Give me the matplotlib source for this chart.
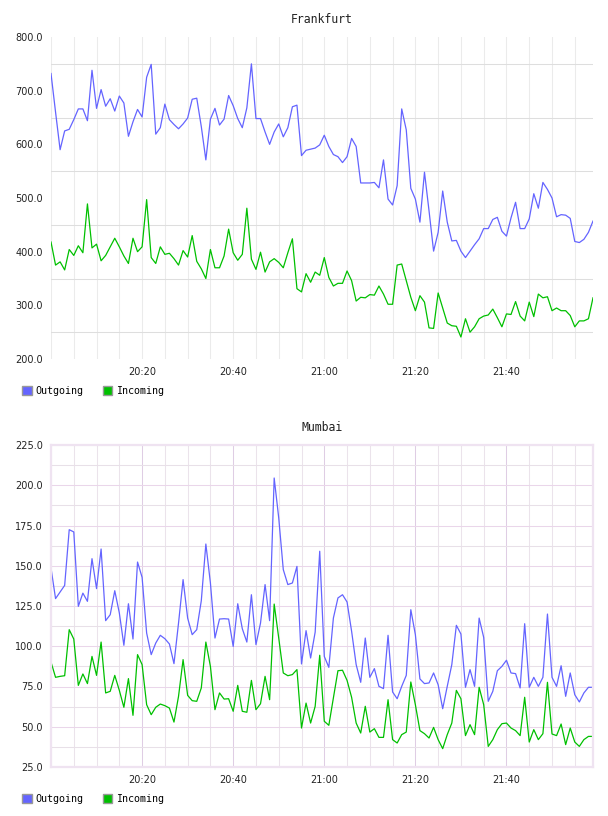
import matplotlib
matplotlib.use('Agg')
import matplotlib.pyplot as plt
import matplotlib.dates as mdates
from matplotlib.patches import Patch
import numpy as np
import pandas as pd

# One sample per minute, 20:00 - 21:59
times = pd.date_range('2017-01-01 20:00', periods=120, freq='min')
tick_times = pd.to_datetime(['2017-01-01 20:20', '2017-01-01 20:40', '2017-01-01 21:00',
                             '2017-01-01 21:20', '2017-01-01 21:40'])

fra_out = [732, 660, 590, 625, 628, 646, 666, 666, 644, 738,
           667, 702, 671, 685, 662, 690, 677, 615, 642, 665,
           651, 725, 749, 619, 631, 675, 646, 637, 629, 638,
           649, 684, 686, 633, 571, 647, 667, 636, 647, 691,
           672, 648, 631, 668, 750, 648, 648, 623, 600, 623,
           638, 614, 631, 670, 673, 579, 589, 591, 593, 599,
           617, 596, 581, 577, 566, 577, 611, 596, 528, 528,
           528, 529, 519, 571, 498, 487, 523, 666, 627, 518,
           498, 455, 548, 476, 401, 436, 513, 455, 420, 421,
           401, 389, 401, 413, 424, 443, 443, 460, 464, 438,
           429, 463, 492, 443, 443, 461, 508, 481, 529, 516,
           500, 465, 469, 468, 462, 419, 417, 423, 436, 457]
fra_in = [418, 375, 381, 366, 404, 393, 411, 398, 489, 407,
          414, 383, 393, 409, 425, 409, 392, 378, 425, 400,
          409, 497, 389, 378, 409, 395, 397, 387, 375, 402,
          390, 430, 382, 368, 350, 404, 370, 370, 392, 442,
          398, 384, 395, 481, 386, 367, 399, 362, 381, 387,
          380, 370, 398, 424, 331, 325, 359, 343, 362, 356,
          389, 352, 336, 341, 341, 364, 346, 308, 315, 314,
          320, 319, 336, 321, 302, 302, 375, 377, 346, 315,
          290, 318, 306, 258, 257, 323, 295, 267, 262, 261,
          241, 275, 250, 260, 275, 280, 282, 293, 277, 260,
          284, 283, 307, 280, 271, 306, 279, 321, 314, 316,
          290, 295, 290, 290, 281, 260, 271, 271, 275, 314]

mum_out = [148.6, 129.6, 133.7, 137.8, 172.4, 171.0, 124.8, 133.0, 127.9, 154.4,
           135.8, 160.4, 115.9, 119.6, 134.5, 120.7, 100.6, 126.4, 104.5, 152.3,
           142.8, 108.2, 94.8, 102.0, 106.8, 104.7, 101.4, 89.2, 114.4, 141.4,
           117.5, 107.2, 110.3, 128.3, 163.5, 139.3, 105.1, 116.9, 117.1, 116.9,
           99.9, 126.4, 110.9, 102.6, 132.0, 101.0, 114.4, 138.3, 115.9, 204.5,
           179.7, 147.6, 138.3, 139.3, 149.6, 89.0, 109.7, 92.7, 108.8, 159.0,
           93.7, 86.9, 117.5, 130.0, 132.0, 127.5, 109.3, 88.6, 77.6, 105.1,
           80.7, 86.1, 75.1, 73.7, 106.8, 71.6, 67.4, 75.1, 81.9, 122.7,
           107.2, 79.7, 76.8, 77.2, 83.4, 76.1, 61.2, 75.1, 88.6, 113.0,
           107.6, 74.5, 85.5, 75.1, 117.5, 105.5, 65.8, 72.0, 84.8, 87.5,
           91.3, 83.4, 83.0, 74.1, 114.0, 74.5, 80.7, 75.1, 80.7, 120.0,
           80.7, 75.1, 87.9, 68.9, 83.4, 69.9, 65.4, 71.0, 74.5, 74.5]
mum_in = [90.2, 80.7, 81.3, 81.7, 110.3, 104.5, 75.7, 82.8, 76.8, 93.7,
          81.9, 102.6, 71.0, 72.0, 81.9, 72.6, 62.1, 79.9, 57.1, 94.8,
          88.6, 63.7, 57.5, 62.1, 64.1, 63.1, 61.6, 52.9, 68.9, 91.7,
          69.5, 66.2, 65.8, 74.1, 102.6, 87.5, 60.6, 71.0, 67.2, 67.4,
          59.6, 75.7, 59.6, 59.0, 78.8, 60.6, 64.3, 81.3, 66.8, 126.2,
          105.1, 83.4, 81.7, 82.4, 85.5, 49.2, 64.7, 52.3, 62.7, 94.4,
          53.4, 50.9, 67.9, 84.8, 85.1, 78.8, 68.3, 52.3, 46.1, 62.7,
          46.7, 48.8, 43.4, 43.4, 66.8, 42.0, 39.9, 45.1, 46.7, 77.8,
          63.7, 47.6, 45.7, 43.0, 49.6, 42.0, 36.4, 45.1, 52.3, 72.6,
          67.4, 44.5, 51.3, 45.1, 74.5, 63.7, 37.8, 42.0, 48.2, 51.9,
          52.3, 49.2, 47.6, 44.5, 68.3, 40.5, 48.2, 42.0, 45.7, 77.6,
          45.5, 44.5, 51.7, 38.9, 49.2, 40.5, 37.8, 42.0, 44.0, 44.0]

OUT_COLOR = '#6464ff'
IN_COLOR = '#00c000'
MONO = 'DejaVu Sans Mono'
LW = 0.9
GW = 0.75

fig = plt.figure(figsize=(6.08, 8.16), dpi=100)
ax1 = fig.add_axes([51 / 608, 1 - 359 / 816, 542 / 608, 322 / 816])
ax2 = fig.add_axes([51 / 608, 1 - 767 / 816, 542 / 608, 322 / 816])


def setup_axis(ax, title, ylo, yhi, ystep):
    ax.set_xlim(times[0], times[-1])
    ax.set_ylim(ylo, yhi)
    ax.set_xticks(tick_times)
    ax.xaxis.set_major_formatter(mdates.DateFormatter('%H:%M'))
    ax.xaxis.set_minor_locator(mdates.MinuteLocator(byminute=range(0, 60, 5)))
    ax.set_yticks(np.arange(ylo, yhi + 1, ystep))
    ax.yaxis.set_major_formatter(plt.FormatStrFormatter('%.1f'))
    ax.tick_params(which='both', length=0, labelsize=7, colors='#222222', pad=6)
    ax.set_title(title, fontsize=8.3, family=MONO, color='#222222', pad=10)
    ax.set_axisbelow(True)


# Frankfurt
ax1.plot(times, fra_out, color=OUT_COLOR, lw=LW)
ax1.plot(times, fra_in, color=IN_COLOR, lw=LW)
setup_axis(ax1, 'Frankfurt', 200, 800, 100)
ax1.set_yticks(np.arange(250, 800, 100), minor=True)
for s in ax1.spines.values():
    s.set_visible(False)
ax1.grid(True, axis='x', which='both', color='#ebebeb', lw=GW)
ax1.grid(True, axis='y', which='minor', color='#dedede', lw=GW)

# Mumbai
ax2.plot(times, mum_out, color=OUT_COLOR, lw=LW)
ax2.plot(times, mum_in, color=IN_COLOR, lw=LW)
setup_axis(ax2, 'Mumbai', 25, 225, 25)
ax2.set_yticks(np.arange(37.5, 225, 25), minor=True)
for s in ax2.spines.values():
    s.set_color('#efe3f1')
    s.set_linewidth(1.6)
ax2.grid(True, axis='x', which='major', color='#dfcde4', lw=GW)
ax2.grid(True, axis='x', which='minor', color='#ebe3eb', lw=GW)
ax2.grid(True, axis='y', which='major', color='#ead6ea', lw=GW)
ax2.grid(True, axis='y', which='minor', color='#e8e0e8', lw=GW)

handles = [Patch(facecolor=OUT_COLOR, edgecolor='#999999', label='Outgoing'),
           Patch(facecolor=IN_COLOR, edgecolor='#999999', label='Incoming')]
for ax, ytop in [(ax1, 386), (ax2, 794)]:
    ax.legend(handles=handles, loc='upper left', ncol=2, frameon=False,
              bbox_to_anchor=(22 / 608, 1 - ytop / 816), bbox_transform=fig.transFigure,
              handlelength=0.95, handleheight=0.95, handletextpad=0.4,
              columnspacing=1.9, borderaxespad=0, borderpad=0,
              prop={'family': MONO, 'size': 7.2})

fig.savefig('out.png', dpi=100, facecolor='white')
